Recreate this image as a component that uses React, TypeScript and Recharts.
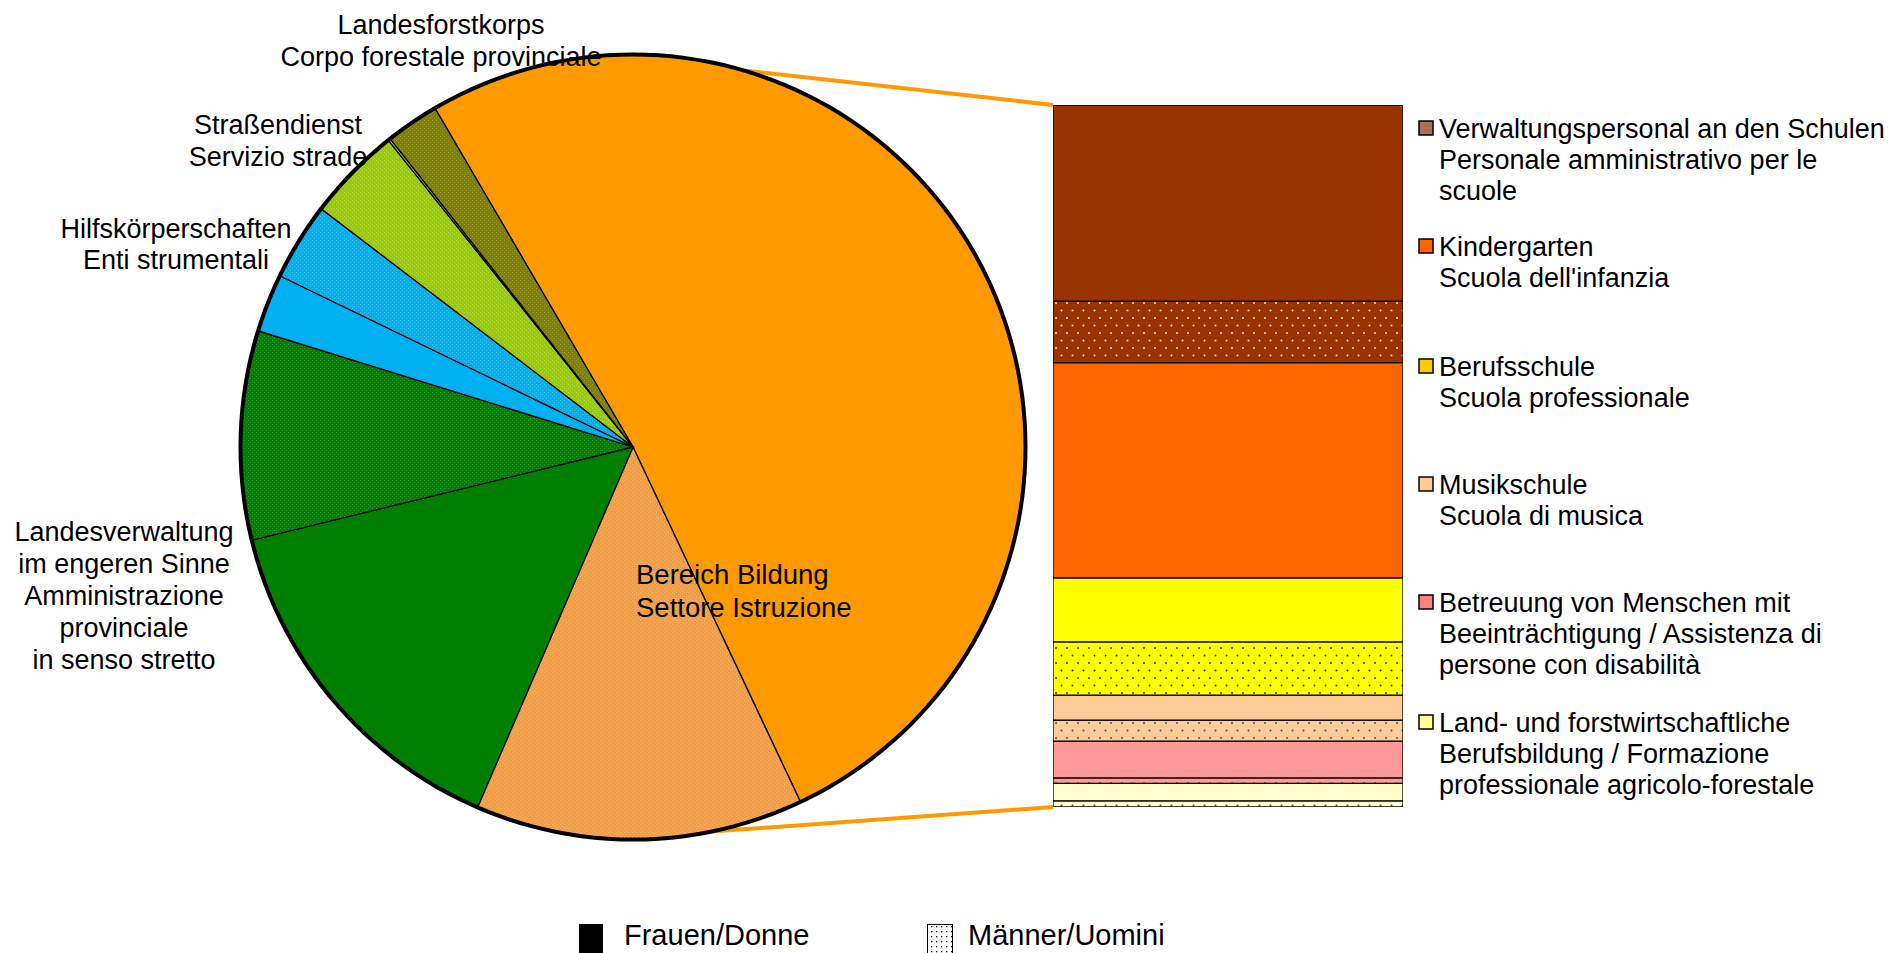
import React from 'react';
import { PieChart, Pie, Cell, BarChart, Bar, XAxis, YAxis } from 'recharts';

// ---------- data ----------
const pieNames = [
  'Bereich Bildung (Aufschlüsselung)',
  'Bereich Bildung',
  'Landesverwaltung – Frauen',
  'Landesverwaltung – Männer',
  'Hilfskörperschaften – Frauen',
  'Hilfskörperschaften – Männer',
  'Straßendienst',
  'Straßendienst (2)',
  'Landesforstkorps',
];
const pieValues = [51.4, 13.5, 14.7, 8.6, 2.4, 3.2, 3.9, 0.1, 2.2];
const pieFills = [
  '#FF9900',
  'url(#pLightOrange)',
  '#008000',
  'url(#pGreen)',
  '#00B0F0',
  'url(#pBlue)',
  'url(#pLightGreen)',
  '#99CC00',
  'url(#pOlive)',
];

const barCategories = [
  ['Verwaltungspersonal an den Schulen', 'Personale amministrativo per le', 'scuole'],
  ['Kindergarten', "Scuola dell'infanzia"],
  ['Berufsschule', 'Scuola professionale'],
  ['Musikschule', 'Scuola di musica'],
  ['Betreuung von Menschen mit', 'Beeinträchtigung / Assistenza di', 'persone con disabilità'],
  ['Land- und forstwirtschaftliche', 'Berufsbildung / Formazione', 'professionale agricolo-forestale'],
];
const barWomen = [14.4, 15.8, 4.7, 1.83, 2.69, 1.28];
const barMen = [4.5, 0, 3.9, 1.55, 0.41, 0.45];
const barColors = ['#993300', '#FF6600', '#FFFF00', '#FFCC99', '#FF9999', '#FFFFCC'];
const barDotPatterns = ['url(#bBrown)', 'url(#bOrange)', 'url(#bYellow)', 'url(#bPeach)', 'url(#bPink)', 'url(#bLightYellow)'];
const legendSwatches = ['#A8705C', '#FF6600', '#FFCC00', '#FFCC99', '#FF8080', '#FFFF99'];

const sexLegend = ['Frauen/Donne', 'Männer/Uomini'];

// ---------- layout ----------
const W = 1892;
const H = 953;
const CX = 633;
const CY = 447;
const R = 392;
const START_ANGLE = 120.3;
const BAR_LEFT = 1053;
const BAR_TOP = 105;
const BAR_W = 350;
const BAR_H = 702;
const CONNECT_TOP_ANGLE = 74;
const CONNECT_BOTTOM_ANGLE = -79;
const FONT = "'Liberation Sans', Arial, Helvetica, sans-serif";
const FS = 27;

const pieData = pieNames.map((name, i) => ({ name, value: pieValues[i] }));
const ringData = [{ name: 'ring', value: 1 }];

const barRow: Record<string, number | string> = { name: 'Bildung' };
barWomen.forEach((v, i) => {
  barRow['w' + i] = v;
  barRow['m' + i] = barMen[i];
});
const stackOrder: { key: string; fill: string }[] = [];
for (let i = barCategories.length - 1; i >= 0; i--) {
  stackOrder.push({ key: 'm' + i, fill: barDotPatterns[i] });
  stackOrder.push({ key: 'w' + i, fill: barColors[i] });
}

const rad = (a: number) => (a * Math.PI) / 180;
const pt = (a: number) => [CX + R * Math.cos(rad(a)), CY - R * Math.sin(rad(a))];

function FineDots({ id, bg, dot }: { id: string; bg: string; dot: string }) {
  return (
    <pattern id={id} width={4} height={4} patternUnits="userSpaceOnUse">
      <rect width={4} height={4} fill={bg} />
      <rect x={0} y={0} width={1} height={1} fill={dot} />
      <rect x={2} y={2} width={1} height={1} fill={dot} />
    </pattern>
  );
}
function BarDots({ id, bg, dot }: { id: string; bg: string; dot: string }) {
  return (
    <pattern id={id} width={22} height={15} patternUnits="userSpaceOnUse">
      <rect width={22} height={15} fill={bg} />
      <circle cx={3} cy={3} r={1} fill={dot} />
      <circle cx={14} cy={3} r={1} fill={dot} />
      <circle cx={8.5} cy={10.5} r={1} fill={dot} />
      <circle cx={19.5} cy={10.5} r={1} fill={dot} />
    </pattern>
  );
}

const legendTop = [128, 246, 366, 484, 602, 722];
const LINE = 31;

export default function App() {
  const [tx, ty] = pt(CONNECT_TOP_ANGLE);
  const [bx, by] = pt(CONNECT_BOTTOM_ANGLE);
  return (
    <div style={{ position: 'absolute', left: 0, top: 0, width: W, height: H, overflow: 'hidden', background: '#fff', fontFamily: FONT }}>
      <svg width={W} height={H} style={{ position: 'absolute', left: 0, top: 0 }}>
        <defs>
          <FineDots id="pLightOrange" bg="#F99C3C" dot="#FBB56C" />
          <FineDots id="pGreen" bg="#017D01" dot="#2E9A2E" />
          <FineDots id="pBlue" bg="#00B0F0" dot="#33C0F3" />
          <FineDots id="pLightGreen" bg="#99CC00" dot="#B3D940" />
          <FineDots id="pOlive" bg="#808000" dot="#999933" />
          <BarDots id="bBrown" bg="#993300" dot="#F2DDD0" />
          <BarDots id="bOrange" bg="#FF6600" dot="#333" />
          <BarDots id="bYellow" bg="#FFFF00" dot="#333" />
          <BarDots id="bPeach" bg="#FFCC99" dot="#555" />
          <BarDots id="bPink" bg="#FF9999" dot="#555" />
          <BarDots id="bLightYellow" bg="#FFFFCC" dot="#555" />
          <pattern id="sexDots" width={5} height={5} patternUnits="userSpaceOnUse">
            <rect width={5} height={5} fill="#fff" />
            <rect x={1} y={1} width={1.3} height={1.3} fill="#000" />
          </pattern>
        </defs>
        <line x1={tx} y1={ty} x2={BAR_LEFT} y2={BAR_TOP} stroke="#FF9900" strokeWidth={4} />
        <line x1={bx} y1={by} x2={BAR_LEFT} y2={BAR_TOP + BAR_H} stroke="#FF9900" strokeWidth={4} />
      </svg>

      <div style={{ position: 'absolute', left: 0, top: 0 }}>
        <PieChart width={W} height={H} margin={{ top: 0, right: 0, bottom: 0, left: 0 }}>
          <Pie
            data={pieData}
            dataKey="value"
            nameKey="name"
            cx={CX}
            cy={CY}
            outerRadius={R}
            startAngle={START_ANGLE}
            endAngle={START_ANGLE - 360}
            stroke="#000"
            strokeWidth={1.3}
            label={false}
            labelLine={false}
            isAnimationActive={false}
          >
            {pieData.map((d, i) => (
              <Cell key={d.name} fill={pieFills[i]} />
            ))}
          </Pie>
          <Pie
            data={ringData}
            dataKey="value"
            cx={CX}
            cy={CY}
            innerRadius={R - 1.5}
            outerRadius={R + 2.5}
            startAngle={0}
            endAngle={360}
            fill="#000"
            stroke="none"
            label={false}
            labelLine={false}
            isAnimationActive={false}
          />
        </PieChart>
      </div>

      <div style={{ position: 'absolute', left: BAR_LEFT, top: BAR_TOP }}>
        <BarChart width={BAR_W} height={BAR_H} data={[barRow]} margin={{ top: 0, right: 0, bottom: 0, left: 0 }} barCategoryGap={0}>
          <XAxis dataKey="name" hide />
          <YAxis hide domain={[0, 'dataMax']} />
          {stackOrder.map((s) => (
            <Bar key={s.key} dataKey={s.key} stackId="a" fill={s.fill} stroke="#000" strokeWidth={1.3} isAnimationActive={false} />
          ))}
        </BarChart>
      </div>

      <svg width={W} height={H} style={{ position: 'absolute', left: 0, top: 0 }} fontFamily={FONT} fontSize={FS} fill="#000">
        <text x={441} y={34} textAnchor="middle">
          <tspan x={441}>Landesforstkorps</tspan>
          <tspan x={441} dy={32}>Corpo forestale provinciale</tspan>
        </text>
        <text x={278} y={134} textAnchor="middle">
          <tspan x={278}>Straßendienst</tspan>
          <tspan x={278} dy={32}>Servizio strade</tspan>
        </text>
        <text x={176} y={238} textAnchor="middle">
          <tspan x={176}>Hilfskörperschaften</tspan>
          <tspan x={176} dy={31}>Enti strumentali</tspan>
        </text>
        <text x={124} y={541} textAnchor="middle">
          <tspan x={124}>Landesverwaltung</tspan>
          <tspan x={124} dy={32}>im engeren Sinne</tspan>
          <tspan x={124} dy={32}>Amministrazione</tspan>
          <tspan x={124} dy={32}>provinciale</tspan>
          <tspan x={124} dy={32}>in senso stretto</tspan>
        </text>
        <text x={636} y={584} fontSize={27.5}>
          <tspan x={636}>Bereich Bildung</tspan>
          <tspan x={636} dy={33}>Settore Istruzione</tspan>
        </text>

        {barCategories.map((lines, i) => (
          <g key={i}>
            <rect x={1419} y={legendTop[i] - 7} width={14} height={14} fill={legendSwatches[i]} stroke="#000" strokeWidth={1.5} />
            <text x={1439} y={legendTop[i] + 9.5}>
              {lines.map((l, j) => (
                <tspan key={j} x={1439} dy={j === 0 ? 0 : LINE}>
                  {l}
                </tspan>
              ))}
            </text>
          </g>
        ))}

        <rect x={579} y={924} width={24} height={32} fill="#000" />
        <text x={624} y={945} fontSize={29}>{sexLegend[0]}</text>
        <rect x={927.5} y={924.5} width={25} height={32} fill="url(#sexDots)" stroke="#000" strokeWidth={1} />
        <text x={968} y={945} fontSize={29}>{sexLegend[1]}</text>
      </svg>
    </div>
  );
}
